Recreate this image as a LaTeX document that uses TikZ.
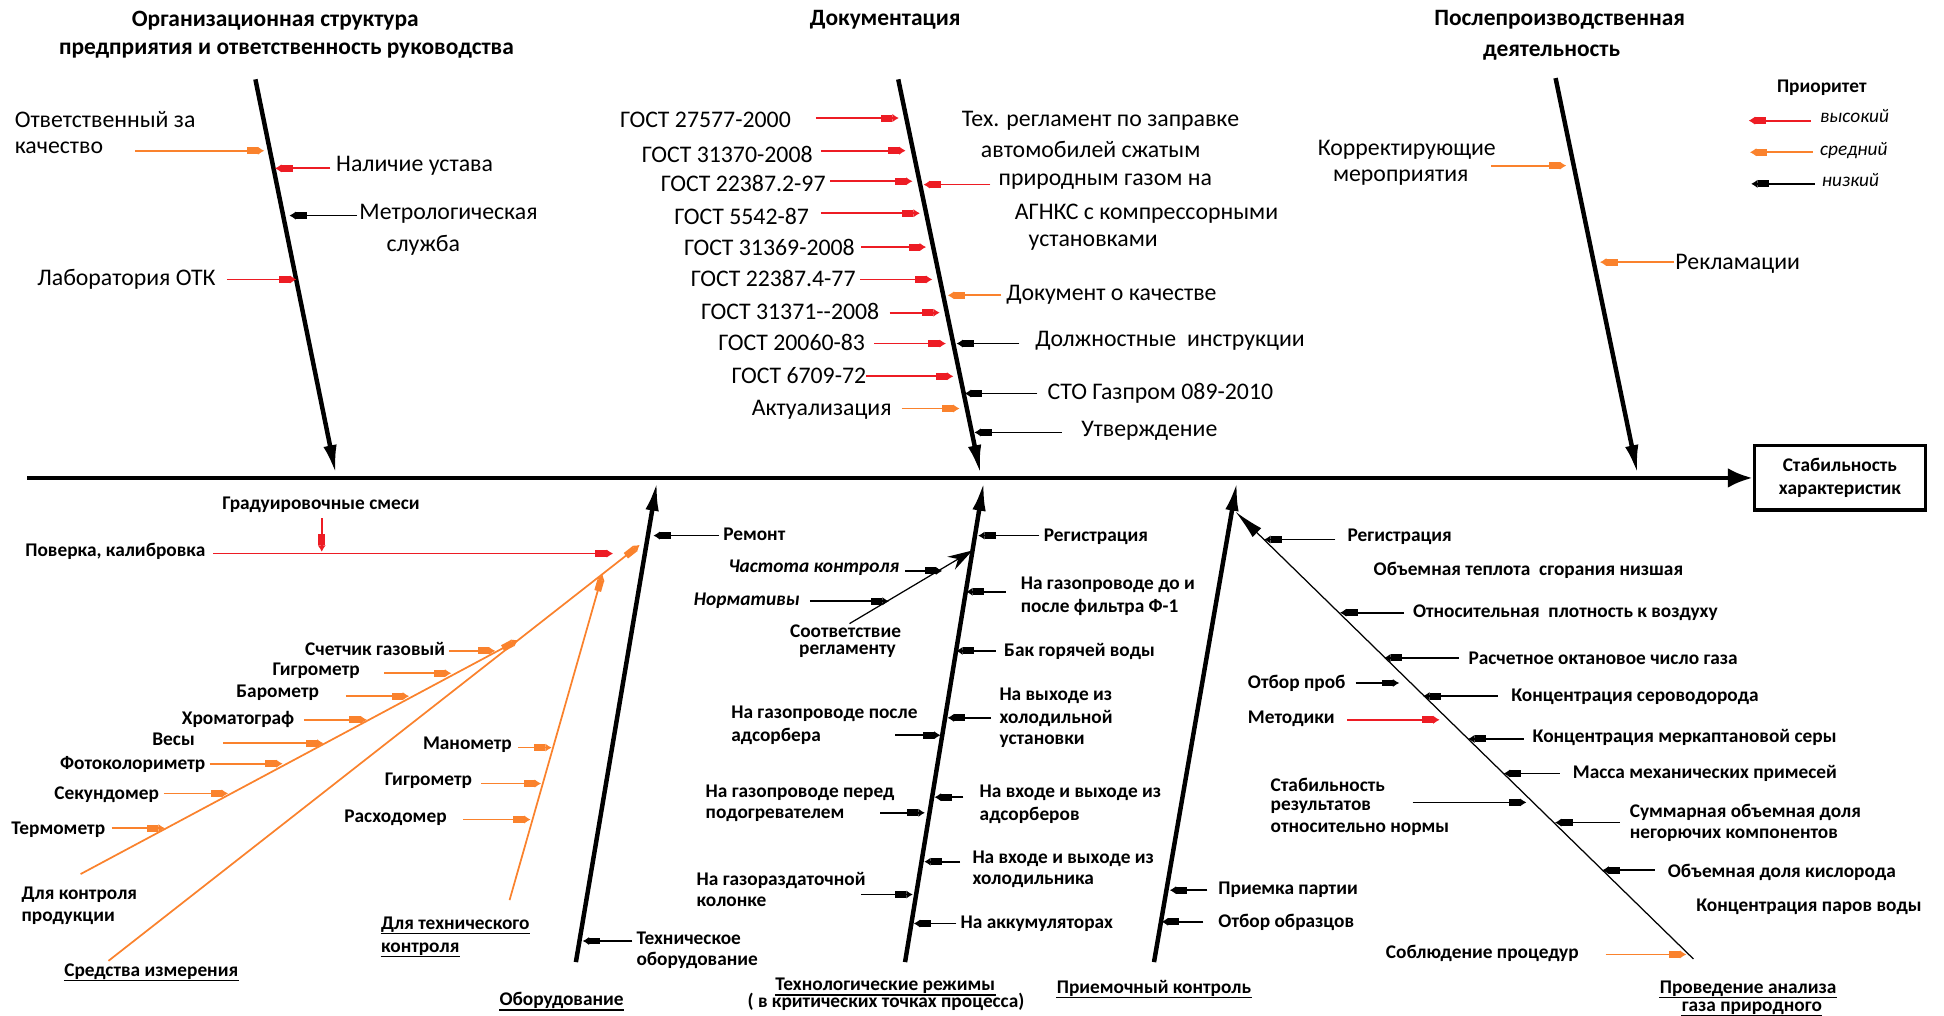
\documentclass[tikz,border=0pt]{standalone}
\usepackage{fontspec}
\setmainfont{Carlito}
\usetikzlibrary{arrows.meta}
\definecolor{cred}{RGB}{237,28,36}
\definecolor{corg}{RGB}{250,130,45}
\newcommand\mkarr[5]{\coordinate (#2s) at (#3,#5);\coordinate (#2e) at (#4,#5);\draw[#1] (#2s) -- (#2e);}
\newcommand\ul[1]{\draw[uline] ([yshift=-1.75pt]#1.base west) -- ([yshift=-1.75pt]#1.base east);}
\begin{document}
\begin{tikzpicture}[x=0.5pt,y=-0.5pt,
 lab/.style={inner sep=0pt,font=\fontsize{9.6}{11}\selectfont},
 blab/.style={inner sep=0pt,font=\bfseries\fontsize{7.8}{9}\selectfont},
 bilab/.style={inner sep=0pt,font=\bfseries\itshape\fontsize{7.8}{9}\selectfont},
 ilab/.style={inner sep=0pt,font=\itshape\fontsize{7.8}{9}\selectfont},
 ttl/.style={inner sep=0pt,font=\bfseries\fontsize{9.45}{11}\selectfont},
 bone/.style={line width=1.8pt,-{Latex[length=12pt,width=5.4pt]}},
 arr/.style={line width=0.7pt,-{Rectangle[length=4.5pt,width=2.8pt]Latex[length=2.6pt,width=3.4pt]}},
 hi/.style={arr,draw=cred},
 md/.style={arr,draw=corg},
 lo/.style={arr,draw=black},
 uline/.style={line width=0.55pt},
 thinbig/.style={line width=0.5pt,-{Stealth[length=10pt,width=6pt]}},
]
\useasboundingbox (0,0) rectangle (1568,819);
% titles
\node[ttl] (t1a) at (222,17) {Организационная структура};
\node[ttl] (t1b) at (231,41) {предприятия и ответственность руководства};
\node[ttl] (t2) at (714,16) {Документация};
\node[ttl] (t3a) at (1258,16) {Послепроизводственная};
\node[ttl] (t3b) at (1251.5,42.3) {деятельность};
% spine and box
\node[draw,line width=1.4pt,minimum width=69pt,minimum height=26pt,align=center,inner sep=0pt,font=\bfseries\fontsize{7.8}{9.1}\selectfont] (box) at (1484,385.5) {Стабильность\\характеристик};
\coordinate (sp0) at (22,385.5);
\draw[line width=1.7pt,-{Latex[length=10pt,width=8pt]}] (sp0) -- (box.west);
% bones
\coordinate (b1s) at (206,64); \coordinate (b1e) at (271,383);
\coordinate (b2s) at (724.5,64); \coordinate (b2e) at (791,383);
\coordinate (b3s) at (1254.7,63); \coordinate (b3e) at (1321,383);
\coordinate (b4s) at (464.5,776); \coordinate (b4e) at (530,388);
\coordinate (b5s) at (730,776); \coordinate (b5e) at (793.6,388);
\coordinate (b6s) at (930.8,776); \coordinate (b6e) at (997.8,388);
\foreach \b in {1,...,6}{\draw[bone] (b\b s) -- (b\b e);}
% section 1
\node[lab,anchor=west] (n1a) at (11.5,96.1) {Ответственный за};
\node[lab,anchor=west] (n1b) at (11.5,118.9) {качество};
\mkarr{md}{a1}{108.9}{213.2}{121.6}
\node[lab,anchor=west] (n2) at (270.8,133.7) {Наличие устава};
\mkarr{hi}{a2}{266.5}{221.8}{135.8}
\node[lab,anchor=west] (n3a) at (289.5,172.6) {Метрологическая};
\node[lab] (n3b) at (341.4,198) {служба};
\mkarr{lo}{a3}{288.1}{233.4}{173.9}
\node[lab,anchor=east] (n4) at (174.3,224.9) {Лаборатория ОТК};
\mkarr{hi}{a4}{183}{239.1}{225.4}
% section 2
\node[lab] (g1) at (569,96.5) {ГОСТ 27577-2000}; \mkarr{hi}{ag1}{658}{725}{95.2}
\node[lab] (g2) at (586.6,124.2) {ГОСТ 31370-2008}; \mkarr{hi}{ag2}{662}{730.5}{121.5}
\node[lab] (g3) at (599.5,148.3) {ГОСТ 22387.2-97}; \mkarr{hi}{ag3}{669.8}{736}{146.2}
\node[lab] (g4) at (598.3,174.4) {ГОСТ 5542-87}; \mkarr{hi}{ag4}{662}{742}{172}
\node[lab] (g5) at (620.6,199.3) {ГОСТ 31369-2008}; \mkarr{hi}{ag5}{694.8}{747}{199.3}
\node[lab] (g6) at (623.7,224.8) {ГОСТ 22387.4-77}; \mkarr{hi}{ag6}{694}{752}{225.4}
\node[lab] (g7) at (637.4,251.1) {ГОСТ 31371-{}-2008}; \mkarr{hi}{ag7}{717.5}{758}{252.2}
\node[lab] (g8) at (638.6,276.6) {ГОСТ 20060-83}; \mkarr{hi}{ag8}{705}{763}{277.1}
\node[lab] (g9) at (644.4,302.6) {ГОСТ 6709-72}; \mkarr{hi}{ag9}{698.8}{769}{303.5}
\node[lab] (g10) at (662.8,330.8) {Актуализация}; \mkarr{md}{ag10}{727.3}{774}{329.5}
\node[lab] (r1a) at (887.6,97.3) {Тех. регламент по заправке};
\node[lab] (r1b) at (879.7,120.7) {автомобилей сжатым};
\node[lab] (r1c) at (891.5,146.4) {природным газом на};
\node[lab] (r1d) at (924.7,172.5) {АГНКС с компрессорными};
\node[lab] (r1e) at (881.7,195.8) {установками};
\mkarr{hi}{ar1}{798.8}{744.9}{148.9}
\node[lab,anchor=west] (r2) at (811.3,237.4) {Документ о качестве}; \mkarr{md}{ar2}{807.4}{764.4}{238.2}
\node[lab,anchor=west] (r3) at (834.8,274.5) {Должностные\ \ инструкции}; \mkarr{lo}{ar3}{822.3}{771.5}{277.1}
\node[lab,anchor=west] (r4) at (844.6,317.4) {СТО Газпром 089-2010}; \mkarr{lo}{ar4}{836.7}{778.1}{317.4}
\node[lab,anchor=west] (r5) at (871.9,347.7) {Утверждение}; \mkarr{lo}{ar5}{856.3}{785.9}{348.8}
% section 3
\node[lab] (p1a) at (1134.7,120.7) {Корректирующие};
\node[lab] (p1b) at (1129.8,143) {мероприятия};
\mkarr{md}{ap1}{1202.7}{1263.3}{133.6}
\node[lab,anchor=west] (p2) at (1351,212.7) {Рекламации};
\mkarr{md}{ap2}{1350}{1290.5}{211.4}
% legend
\node[blab] (lg0) at (1469.4,70.5) {Приоритет};
\node[ilab] (lg1) at (1495.9,93.8) {высокий}; \mkarr{hi}{al1}{1460.4}{1410.4}{97.3}
\node[ilab] (lg2) at (1495.2,121.5) {средний}; \mkarr{md}{al2}{1462}{1411.4}{122.8}
\node[ilab] (lg3) at (1492.6,145.6) {низкий}; \mkarr{lo}{al3}{1463.7}{1412.4}{148.3}
% equipment
\node[blab,anchor=west] (e1) at (583,431) {Ремонт}; \mkarr{lo}{ae1}{580}{527}{432}
\node[blab,anchor=west] (e2a) at (513,757) {Техническое};
\node[blab,anchor=west] (e2b) at (513,775) {оборудование};
\mkarr{lo}{ae2}{510}{470}{759}
\node[blab] (e3) at (259,407) {Градуировочные смеси};
\coordinate (e3s) at (259.5,418); \coordinate (e3e) at (259.5,445);
\draw[hi] (e3s) -- (e3e);
\node[blab] (e4) at (93,445) {Поверка, калибровка};
\mkarr{hi}{ae4}{172}{494.5}{446.5}
\coordinate (mb0) at (87.5,775); \coordinate (mb1) at (516,439.5);
\draw[md] (mb0) -- (mb1);
\coordinate (ma0) at (65,705); \coordinate (ma1) at (418,516.2);
\draw[md] (ma0) -- (ma1);
\coordinate (mc0) at (411,726); \coordinate (mc1) at (486,463);
\draw[md] (mc0) -- (mc1);
\node[blab] (i1) at (302.6,523.7) {Счетчик газовый}; \mkarr{md}{ai1}{362}{399.5}{525}
\node[blab] (i2) at (255,541) {Гигрометр}; \mkarr{md}{ai2}{310}{364}{543}
\node[blab] (i3) at (224,559) {Барометр}; \mkarr{md}{ai3}{279}{330}{561.5}
\node[blab] (i4) at (192,580) {Хроматограф}; \mkarr{md}{ai4}{245}{296}{580.6}
\node[blab] (i5) at (140,596.6) {Весы}; \mkarr{md}{ai5}{180}{261}{599.5}
\node[blab] (i6) at (107,617) {Фотоколориметр}; \mkarr{md}{ai6}{169}{228}{616}
\node[blab] (i7) at (86,641) {Секундомер}; \mkarr{md}{ai7}{132}{184}{640}
\node[blab] (i8) at (47,669) {Термометр}; \mkarr{md}{ai8}{90}{133}{668}
\node[blab] (i9) at (377,601) {Манометр}; \mkarr{md}{ai9}{418}{445}{603}
\node[blab] (i10) at (345.6,630) {Гигрометр}; \mkarr{md}{ai10}{388}{436.5}{632}
\node[blab] (i11) at (319,660) {Расходомер}; \mkarr{md}{ai11}{373.6}{428}{661}
\node[blab,anchor=west] (i12a) at (17,722) {Для контроля};
\node[blab,anchor=west] (i12b) at (17,740.6) {продукции};
\node[blab,anchor=base west] (i13a) at (307,749.5) {Для технического}; \ul{i13a}
\node[blab,anchor=base west] (i13b) at (307,768) {контроля}; \ul{i13b}
\node[blab,anchor=base] (i14) at (122,787.5) {Средства измерения}; \ul{i14}
\node[blab,anchor=base] (e5) at (453,811) {Оборудование}; \ul{e5}
% technological regimes
\node[blab,anchor=west] (m1) at (841.5,433) {Регистрация}; \mkarr{lo}{am1}{838.3}{789}{432}
\node[bilab] (m2) at (656.5,457.7) {Частота контроля}; \mkarr{lo}{am2}{730}{760}{460.5}
\node[bilab] (m3) at (602.3,484.4) {Нормативы}; \mkarr{lo}{am3}{653.3}{717}{485}
\node[blab,anchor=base] (m4a) at (682,514) {Соответствие};
\node[blab,anchor=base] (m4b) at (683.6,528) {регламенту};
\coordinate (m4s) at (685.2,503); \coordinate (m4e) at (784.4,444);
\draw[thinbig] (m4s) -- (m4e);
\node[blab,anchor=west] (m5a) at (823,471.7) {На газопроводе до и};
\node[blab,anchor=west] (m5b) at (823,490) {после фильтра Ф-1};
\mkarr{lo}{am5}{811.2}{779.3}{477.3}
\node[blab,anchor=west] (m6) at (809.6,525.6) {Бак горячей воды}; \mkarr{lo}{am6}{803.2}{771.3}{525}
\node[blab,anchor=west] (m7a) at (805.8,561.6) {На выходе из};
\node[blab,anchor=west] (m7b) at (805.8,579.8) {холодильной};
\node[blab,anchor=west] (m7c) at (805.8,598) {установки};
\mkarr{lo}{am7}{799.4}{764.3}{579}
\node[blab,anchor=west] (m8a) at (589.5,575.6) {На газопроводе после};
\node[blab,anchor=west] (m8b) at (589.5,593.8) {адсорбера};
\mkarr{lo}{am8}{721.9}{758.6}{593}
\node[blab,anchor=west] (m9a) at (568.8,639.6) {На газопроводе перед};
\node[blab,anchor=west] (m9b) at (568.8,657.5) {подогревателем};
\mkarr{lo}{am9}{710}{746}{655.6}
\node[blab,anchor=west] (m10a) at (789.8,639.6) {На входе и выходе из};
\node[blab,anchor=west] (m10b) at (789.8,657.5) {адсорберов};
\mkarr{lo}{am10}{777}{753.8}{643}
\node[blab,anchor=west] (m11a) at (784,693) {На входе и выходе из};
\node[blab,anchor=west] (m11b) at (784,711) {холодильника};
\mkarr{lo}{am11}{774.5}{745.5}{695}
\node[blab,anchor=west] (m12a) at (561.5,709.8) {На газораздаточной};
\node[blab,anchor=west] (m12b) at (561.5,727) {колонке};
\mkarr{lo}{am12}{694.8}{736.2}{721.5}
\node[blab,anchor=west] (m13) at (774.5,745.4) {На аккумуляторах};
\mkarr{lo}{am13}{771.3}{737}{744.9}
\node[blab,anchor=base] (m14a) at (714,799) {Технологические режимы}; \ul{m14a}
\node[blab,anchor=base] (m14b) at (714.6,813) {( в критических точках процесса)};
% acceptance control
\node[blab,anchor=west] (q1) at (982.4,717.3) {Приемка партии}; \mkarr{lo}{aq1}{973.8}{943.5}{718}
\node[blab,anchor=west] (q2) at (982.4,744) {Отбор образцов}; \mkarr{lo}{aq2}{970.6}{937}{743.5}
\node[blab,anchor=base] (q3) at (930.8,801) {Приемочный контроль}; \ul{q3}
% gas analysis
\coordinate (z0) at (1365.9,773.5); \coordinate (z1) at (996.6,412.8);
\draw[line width=0.5pt,-{Latex[length=12pt,width=5pt]}] (z0) -- (z1);
\node[blab,anchor=west] (z2) at (1086.5,433.3) {Регистрация}; \mkarr{lo}{az2}{1077}{1019.6}{435.2}
\node[blab,anchor=west] (z3) at (1107.6,459.7) {Объемная теплота\ \ сгорания низшая};
\node[blab,anchor=west] (z4) at (1139.3,494.2) {Относительная\ \ плотность к воздуху}; \mkarr{lo}{az4}{1132.5}{1080.8}{494.2}
\node[blab,anchor=west] (z5) at (1184.1,530.7) {Расчетное октановое число газа}; \mkarr{lo}{az5}{1176.5}{1116.4}{530.7}
\node[blab,anchor=west] (z6) at (1006.2,550.9) {Отбор проб}; \mkarr{lo}{az6}{1093.4}{1128.6}{550.9}
\node[blab,anchor=west] (z7) at (1218.6,562) {Концентрация сероводорода}; \mkarr{lo}{az7}{1208.2}{1147.8}{561.5}
\node[blab,anchor=west] (z8) at (1006.2,579.8) {Методики}; \mkarr{hi}{az8}{1086.5}{1161.2}{580.6}
\node[blab,anchor=west] (z9) at (1235.8,595.2) {Концентрация меркаптановой серы}; \mkarr{lo}{az9}{1228.9}{1184.1}{596}
\node[blab,anchor=west] (z10) at (1268.3,623.9) {Масса механических примесей}; \mkarr{lo}{az10}{1258}{1212.8}{623.9}
\node[blab,anchor=west] (z11a) at (1024.5,633.1) {Стабильность};
\node[blab,anchor=west] (z11b) at (1024.5,650.8) {результатов};
\node[blab,anchor=west] (z11c) at (1024.5,668.8) {относительно нормы};
\mkarr{lo}{az11}{1139.4}{1231.2}{647.2}
\node[blab,anchor=west] (z12a) at (1314.2,655.6) {Суммарная объемная доля};
\node[blab,anchor=west] (z12b) at (1314.2,673.3) {негорючих компонентов};
\mkarr{lo}{az12}{1306.6}{1254.2}{663.5}
\node[blab,anchor=west] (z13) at (1344.9,703.3) {Объемная доля кислорода}; \mkarr{lo}{az13}{1334.5}{1292.4}{701.9}
\node[blab,anchor=west] (z14) at (1367.8,731.4) {Концентрация паров воды};
\node[blab] (z15) at (1195.6,769.3) {Соблюдение процедур}; \mkarr{md}{az15}{1295.1}{1360.2}{769.8}
\node[blab,anchor=base] (z16a) at (1410,801.2) {Проведение анализа}; \ul{z16a}
\node[blab,anchor=base] (z16b) at (1413,816) {газа природного}; \ul{z16b}
\end{tikzpicture}
\end{document}
